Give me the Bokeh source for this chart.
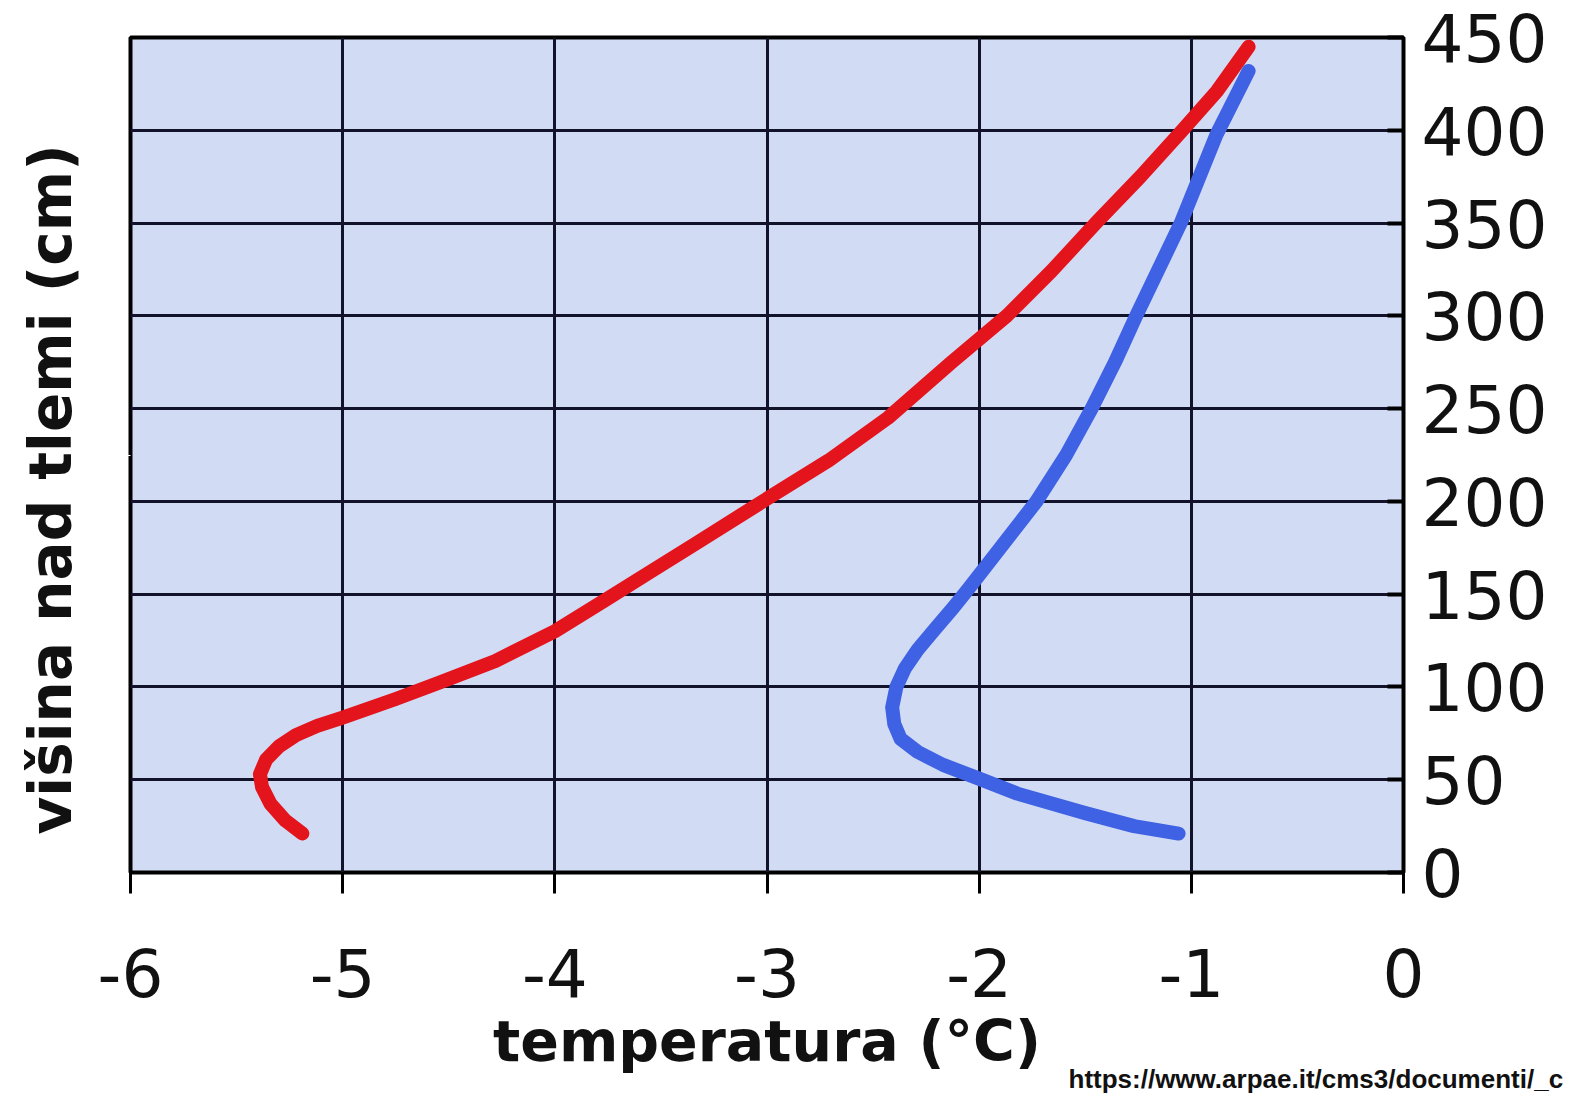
from bokeh.plotting import figure
from bokeh.models import Range1d, FixedTicker, Title, LinearAxis, CustomJSTickFormatter
from bokeh.embed import file_html
from bokeh.resources import INLINE

# --- data (temperature in °C, height in cm) ---
red_temp = [-5.19, -5.27, -5.34, -5.38, -5.39, -5.36, -5.30, -5.22, -5.12, -5.00,
            -4.75, -4.54, -4.28, -4.00, -3.76, -3.55, -3.34, -3.02, -2.71, -2.43,
            -2.13, -1.87, -1.66, -1.45, -1.24, -1.05, -0.88, -0.73]
red_height = [21, 28, 37, 46, 53, 61, 68, 74, 79, 83.5,
              93.5, 102.5, 114, 130, 147, 162, 177, 200, 222, 245,
              275, 300, 324, 350, 375, 399, 421, 445]

blue_temp = [-1.06, -1.27, -1.50, -1.82, -2.01, -2.17, -2.29, -2.37, -2.40, -2.41,
             -2.39, -2.35, -2.29, -2.21, -2.12, -2.05, -1.90, -1.73, -1.59, -1.47,
             -1.36, -1.26, -1.05, -0.88, -0.73]
blue_height = [21, 25, 32, 42.5, 51, 58, 65, 72, 80, 89,
               100, 110, 120, 131, 143, 153, 175, 200, 225, 250,
               275, 300, 350, 398, 432]

x_ticks = [-6, -5, -4, -3, -2, -1, 0]
y_ticks = [0, 50, 100, 150, 200, 250, 300, 350, 400, 450]

x_title = "temperatura (°C)"
y_title = "višina nad tlemi (cm)"
source_text = "https://www.arpae.it/cms3/documenti/_c"

W, H = 1575, 1096
p = figure(width=W, height=H, output_backend="svg", toolbar_location=None,
           x_range=Range1d(-6, 0), y_range=Range1d(0, 450),
           y_axis_location="right")
p.min_border_left = 130
p.min_border_top = 37
p.min_border_right = 172
p.min_border_bottom = 224

p.background_fill_color = "#d1dcf4"
p.border_fill_color = "white"
p.outline_line_color = "black"
p.outline_line_width = 4

# grid
p.xgrid.ticker = FixedTicker(ticks=x_ticks)
p.ygrid.ticker = FixedTicker(ticks=y_ticks)
for g in (p.xgrid, p.ygrid):
    g.grid_line_color = "#12122a"
    g.grid_line_width = 3
    g.grid_line_alpha = 1.0

# x axis
xa = p.xaxis[0]
xa.ticker = FixedTicker(ticks=x_ticks)
xa.formatter = CustomJSTickFormatter(code="return tick.toString();")
xa.axis_line_color = None
xa.major_tick_out = 21
xa.major_tick_in = 0
xa.major_tick_line_width = 3
xa.major_tick_line_color = "black"
xa.minor_tick_line_color = None
xa.major_label_standoff = 54
xa.major_label_text_font = "DejaVu Sans"
xa.major_label_text_font_size = "66px"
xa.major_label_text_color = "#111111"
xa.axis_label = x_title
xa.axis_label_standoff = 8
xa.axis_label_text_font = "DejaVu Sans"
xa.axis_label_text_font_style = "bold"
xa.axis_label_text_font_size = "57px"
xa.axis_label_text_color = "#111111"

# y axis (right)
ya = p.yaxis[0]
ya.ticker = FixedTicker(ticks=y_ticks)
ya.formatter = CustomJSTickFormatter(code="return tick.toString();")
ya.axis_line_color = None
ya.major_tick_out = 0
ya.major_tick_in = 16
ya.major_tick_line_width = 4
ya.major_tick_line_color = "black"
ya.minor_tick_line_color = None
ya.major_label_standoff = 18
ya.major_label_text_font = "DejaVu Sans"
ya.major_label_text_font_size = "66px"
ya.major_label_text_color = "#111111"

# left spacer axis: one white (invisible) tick whose length reserves room
spacer = LinearAxis(ticker=FixedTicker(ticks=[225]))
spacer.axis_line_color = None
spacer.major_tick_line_color = "white"
spacer.major_tick_line_width = 1
spacer.minor_tick_line_color = None
spacer.major_tick_out = 44
spacer.major_tick_in = 0
spacer.major_label_standoff = 0
spacer.major_label_overrides = {225: ""}
spacer.major_label_text_font_size = "1px"
spacer.major_label_text_color = "white"
p.add_layout(spacer, "left")

# rotated y title beyond the spacer
p.add_layout(Title(text=y_title, align="left", offset=38, vertical_align="top", standoff=0,
                   text_font="DejaVu Sans", text_font_style="bold",
                   text_font_size="58px", text_color="#111111"), "left")

# curves
p.line(red_temp, red_height, line_color="#e3141c", line_width=14, line_cap="round", line_join="round")
p.line(blue_temp, blue_height, line_color="#3f62e4", line_width=14, line_cap="round", line_join="round")

# source text (below, pulled up next to the axis title)
p.add_layout(Title(text=source_text, align="left", offset=938, vertical_align="top", standoff=-26,
                   text_font="Liberation Sans", text_font_style="bold",
                   text_font_size="26px", text_color="#111111"), "below")

open("out.html", "w").write(file_html(p, INLINE))
